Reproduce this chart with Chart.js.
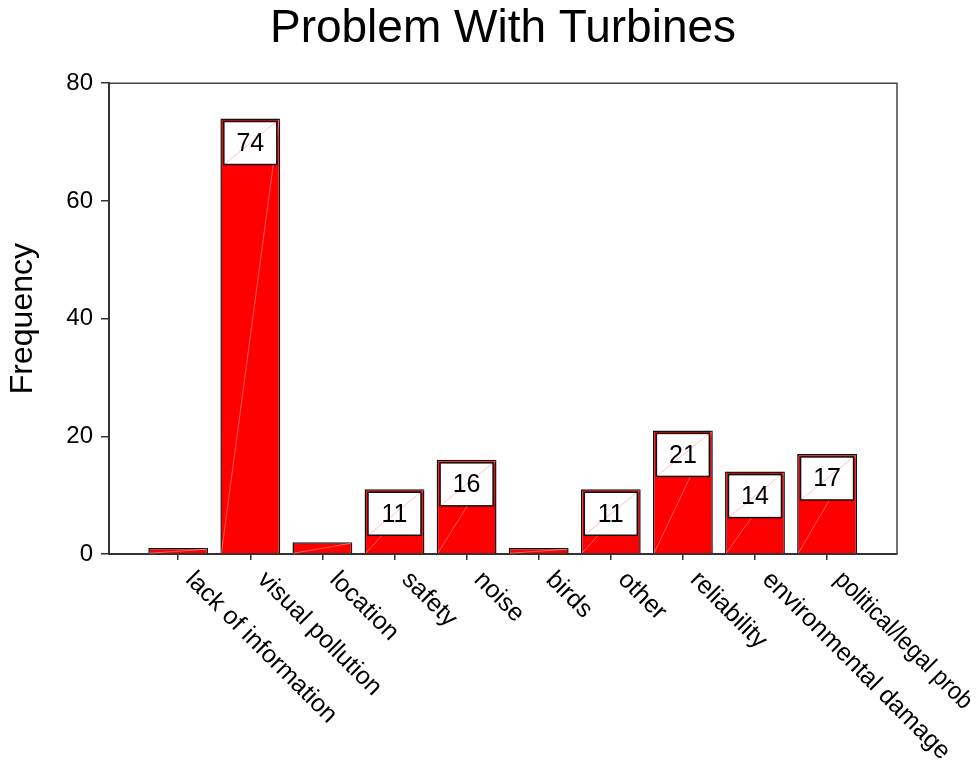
<!DOCTYPE html>
<html>
<head>
<meta charset="utf-8">
<title>Problem With Turbines</title>
<script src="https://cdn.jsdelivr.net/npm/chart.js@4"></script>
<style>
  html, body { margin: 0; padding: 0; background: #ffffff; }
  #wrap { width: 980px; height: 764px; }
</style>
</head>
<body>
<div id="wrap"><canvas id="chart" width="980" height="764"></canvas></div>
<script>
// Frequencies of each reported problem
const categories = [
  'lack of information', 'visual pollution', 'location', 'safety', 'noise',
  'birds', 'other', 'reliability', 'environmental damage', 'political/legal prob'
];
const frequencies = [1, 74, 2, 11, 16, 1, 11, 21, 14, 17];
const yTicks = [0, 20, 40, 60, 80];
const chartTitle = 'Problem With Turbines';
const yTitle = 'Frequency';

const FONT = '"Liberation Sans", Arial, Helvetica, sans-serif';

// Top and right edges of the plot frame
const framePlugin = {
  id: 'frame',
  beforeDatasetsDraw(chart) {
    const { ctx, chartArea: a } = chart;
    ctx.save();
    ctx.strokeStyle = '#444444';
    ctx.lineWidth = 1.5;
    ctx.beginPath();
    ctx.moveTo(a.left, a.top);
    ctx.lineTo(a.right, a.top);
    ctx.lineTo(a.right, a.bottom);
    ctx.stroke();
    ctx.restore();
  }
};

// Value boxes inside the top of each bar, plus the thin diagonal hairlines
const barLabelPlugin = {
  id: 'barLabels',
  afterDatasetsDraw(chart) {
    const { ctx } = chart;
    const meta = chart.getDatasetMeta(0);
    const boxW = 53, boxH = 43;
    ctx.save();
    meta.data.forEach((bar, i) => {
      const p = bar.getProps(['x', 'y', 'base', 'width'], true);
      const left = p.x - p.width / 2, right = p.x + p.width / 2;
      // hairline across the bar
      ctx.strokeStyle = 'rgba(255,255,255,0.45)';
      ctx.lineWidth = 0.8;
      ctx.beginPath();
      ctx.moveTo(left + 1, p.base);
      ctx.lineTo(right - 1, p.y + 1);
      ctx.stroke();

      if (p.base - p.y < boxH + 8) return;
      const bx = p.x - boxW / 2, by = p.y + 3;
      ctx.fillStyle = '#ffffff';
      ctx.fillRect(bx, by, boxW, boxH);
      ctx.strokeStyle = 'rgba(255,0,0,0.3)';
      ctx.lineWidth = 0.8;
      ctx.beginPath();
      ctx.moveTo(bx, by + boxH);
      ctx.lineTo(bx + boxW, by);
      ctx.stroke();
      ctx.strokeStyle = '#111111';
      ctx.lineWidth = 1.5;
      ctx.strokeRect(bx, by, boxW, boxH);
      ctx.fillStyle = '#000000';
      ctx.font = '25px ' + FONT;
      ctx.textAlign = 'center';
      ctx.textBaseline = 'middle';
      ctx.fillText(String(frequencies[i]), p.x, by + boxH / 2 + 1);
    });
    ctx.restore();
  }
};

// Category names, slanted down to the right from each tick
const xLabelPlugin = {
  id: 'xLabels',
  afterDraw(chart) {
    const { ctx } = chart;
    const xs = chart.scales.x;
    const y0 = chart.chartArea.bottom + 13;
    ctx.save();
    ctx.fillStyle = '#000000';
    ctx.font = '25px ' + FONT;
    ctx.textAlign = 'left';
    ctx.textBaseline = 'top';
    categories.forEach((name, i) => {
      const ax = xs.getPixelForValue(i) + 20;
      // keep the slanted text inside the canvas
      const room = (chart.width - 3 - ax) / Math.SQRT1_2;
      const w = Math.min(ctx.measureText(name).width, room);
      ctx.save();
      ctx.translate(ax, y0);
      ctx.rotate(Math.PI / 4);
      ctx.fillText(name, 0, 0, w);
      ctx.restore();
    });
    ctx.restore();
  }
};

new Chart(document.getElementById('chart'), {
  type: 'bar',
  data: {
    datasets: [{
      data: frequencies.map((v, i) => ({ x: i, y: v })),
      backgroundColor: '#ff0000',
      borderColor: '#111111',
      borderWidth: 1.5,
      categoryPercentage: 1,
      barPercentage: 0.83
    }]
  },
  options: {
    responsive: false,
    animation: false,
    devicePixelRatio: 1,
    layout: { padding: { right: 83 } },
    plugins: {
      legend: { display: false },
      tooltip: { enabled: false },
      title: {
        display: true,
        text: chartTitle,
        fullSize: false,
        color: '#000000',
        font: { family: FONT, size: 46, weight: 'normal' },
        padding: { top: 2, bottom: 26 }
      }
    },
    scales: {
      x: {
        type: 'linear',
        offset: false,
        min: -0.96,
        max: 9.97,
        afterBuildTicks(axis) { axis.ticks = categories.map((_, i) => ({ value: i })); },
        afterFit(axis) { axis.height = 210; },
        ticks: { display: false },
        grid: { offset: false, drawOnChartArea: false, drawTicks: true, tickLength: 6, color: '#333333', lineWidth: 1.5 },
        border: { display: true, color: '#333333', width: 2 }
      },
      y: {
        min: 0,
        max: 80,
        afterBuildTicks(axis) { axis.ticks = yTicks.map(v => ({ value: v })); },
        afterFit(axis) { axis.width = 109; },
        ticks: { color: '#000000', padding: 8, font: { family: FONT, size: 24 } },
        grid: { drawOnChartArea: false, drawTicks: true, tickLength: 8, color: '#333333', lineWidth: 1.5 },
        border: { display: true, color: '#333333', width: 2 },
        title: {
          display: true,
          text: yTitle,
          color: '#000000',
          font: { family: FONT, size: 32 },
          padding: { top: 4 }
        }
      }
    }
  },
  plugins: [framePlugin, barLabelPlugin, xLabelPlugin]
});
</script>
</body>
</html>
